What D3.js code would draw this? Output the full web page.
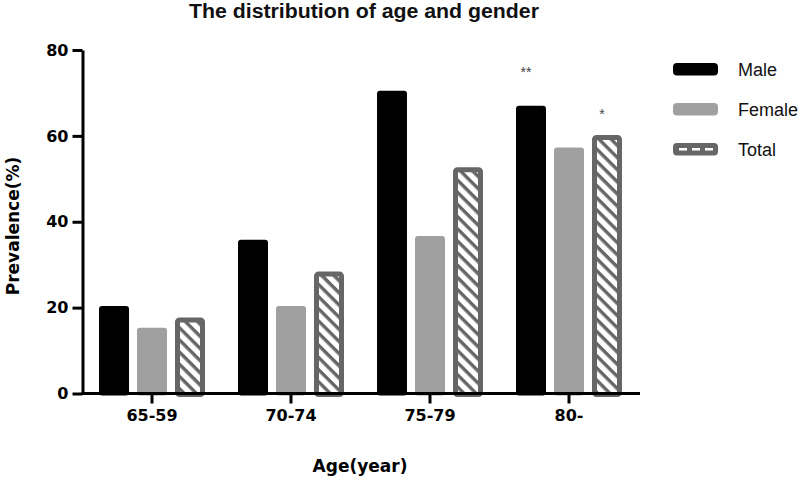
<!DOCTYPE html>
<html><head><meta charset="utf-8">
<script src="https://cdn.jsdelivr.net/npm/d3@7"></script>
<style>body{margin:0;background:#fff}</style>
</head><body><svg id="chart" width="800" height="481"></svg>
<script>
const categories = ["65-59", "70-74", "75-79", "80-"];
const seriesNames = ["Male", "Female", "Total"];
const maleValues = [20.4, 35.8, 70.5, 67.0];
const femaleValues = [15.3, 20.4, 36.7, 57.3];
const totalValues = [17.7, 28.4, 52.7, 60.2];
const yTicks = [0, 20, 40, 60, 80];
const annotationLabels = ["**", "*"];
const annotationSeries = ["Male", "Total"];
const annotationCategory = ["80-", "80-"];
const annotationValues = [75.3, 65.6];

const seriesValues = {Male: maleValues, Female: femaleValues, Total: totalValues};
const colors = {Male: "#000000", Female: "#a0a0a0", Total: "#666666"};

const svg = d3.select("#chart");
const plotLeft = 82.5, plotRight = 638.5, plotTop = 50, plotBottom = 393.5;

const x0 = d3.scaleBand().domain(categories).range([plotLeft, plotRight])
  .paddingInner(33 / 139).paddingOuter(33 / 278);
const x1 = d3.scaleBand().domain(seriesNames).range([0, x0.bandwidth()])
  .paddingInner(0.2105).paddingOuter(0);
const y = d3.scaleLinear().domain([0, 80]).range([plotBottom, plotTop]);

// hatch pattern
const defs = svg.append("defs");
const pat = defs.append("pattern").attr("id", "hatch")
  .attr("patternUnits", "userSpaceOnUse").attr("width", 20).attr("height", 8.6)
  .attr("patternTransform", "rotate(45)");
pat.append("rect").attr("width", 20).attr("height", 8.6).attr("fill", "#fff");
pat.append("rect").attr("y", 0).attr("width", 20).attr("height", 3.4).attr("fill", "#666");

// title
svg.append("text").attr("x", 364).attr("y", 18).attr("text-anchor", "middle")
  .attr("font-family", "'Liberation Sans', Arial, sans-serif")
  .attr("font-weight", "bold").attr("font-size", 20)
  .attr("textLength", 350).attr("lengthAdjust", "spacingAndGlyphs")
  .attr("fill", "#111").text("The distribution of age and gender");

// bars
const data = [];
categories.forEach((c, i) => seriesNames.forEach(s => data.push({c, s, v: seriesValues[s][i]})));

const bars = svg.append("g");
bars.selectAll("rect.solid").data(data.filter(d => d.s !== "Total")).join("rect")
  .attr("class", "solid")
  .attr("x", d => x0(d.c) + x1(d.s))
  .attr("y", d => y(d.v))
  .attr("width", x1.bandwidth())
  .attr("height", d => y(0) - y(d.v) + 2)
  .attr("rx", 3)
  .attr("fill", d => colors[d.s]);

const sw = 5;
bars.selectAll("rect.hatch").data(data.filter(d => d.s === "Total")).join("rect")
  .attr("class", "hatch")
  .attr("x", d => x0(d.c) + x1(d.s) + sw / 2)
  .attr("y", d => y(d.v) + sw / 2)
  .attr("width", x1.bandwidth() - sw)
  .attr("height", d => y(0) - y(d.v) - sw / 2 + 1)
  .attr("rx", 2)
  .attr("fill", "url(#hatch)")
  .attr("stroke", "#666").attr("stroke-width", sw);

// annotations
svg.append("g").selectAll("text").data(annotationLabels).join("text")
  .attr("x", (d, i) => x0(annotationCategory[i]) + x1(annotationSeries[i]) + x1.bandwidth() / 2 - 5)
  .attr("y", (d, i) => y(annotationValues[i]) + 7)
  .attr("text-anchor", "middle")
  .attr("font-family", "'Liberation Sans', Arial, sans-serif")
  .attr("font-size", 14).attr("fill", "#444").text(d => d);

// axes
const fontBold = "'DejaVu Sans', sans-serif";
const yAxis = svg.append("g").attr("transform", `translate(${plotLeft},0)`)
  .call(d3.axisLeft(y).tickValues(yTicks).tickSize(10).tickPadding(4).tickSizeOuter(0));
yAxis.select(".domain").attr("stroke", "#000").attr("stroke-width", 3);
yAxis.selectAll(".tick line").attr("stroke", "#000").attr("stroke-width", 3);
yAxis.selectAll(".tick text").attr("font-family", fontBold).attr("font-weight", "bold")
  .attr("font-size", 16).attr("fill", "#000");

const xAxis = svg.append("g").attr("transform", `translate(0,${plotBottom})`)
  .call(d3.axisBottom(x0).tickSize(10).tickPadding(6).tickSizeOuter(0));
xAxis.select(".domain").attr("stroke", "#000").attr("stroke-width", 3)
  .attr("d", `M${plotLeft - 1.5},0H${plotRight + 1.5}`);
xAxis.selectAll(".tick line").attr("stroke", "#000").attr("stroke-width", 3);
xAxis.selectAll(".tick text").attr("font-family", fontBold).attr("font-weight", "bold")
  .attr("font-size", 16).attr("fill", "#000");

// axis titles
svg.append("text").attr("x", 360).attr("y", 472).attr("text-anchor", "middle")
  .attr("font-family", fontBold).attr("font-weight", "bold").attr("font-size", 17)
  .attr("fill", "#000").text("Age(year)");
svg.append("text").attr("transform", "translate(19,226) rotate(-90)").attr("text-anchor", "middle")
  .attr("font-family", fontBold).attr("font-weight", "bold").attr("font-size", 17)
  .attr("fill", "#000").text("Prevalence(%)");

// legend
const legend = svg.append("g").attr("transform", "translate(673,63)");
const lg = legend.selectAll("g").data(seriesNames).join("g")
  .attr("transform", (d, i) => `translate(0,${i * 40})`);
lg.append("rect").attr("width", 45).attr("height", 12.5).attr("rx", 4)
  .attr("fill", d => colors[d]);
lg.filter(d => d === "Total").append("line")
  .attr("x1", 6).attr("x2", 41).attr("y1", 6.25).attr("y2", 6.25)
  .attr("stroke", "#fff").attr("stroke-width", 2.5).attr("stroke-dasharray", "8,5");
lg.append("text").attr("x", 65).attr("y", 13)
  .attr("font-family", "'Liberation Sans', Arial, sans-serif").attr("font-size", 18)
  .attr("fill", "#111").text(d => d);
</script></body></html>
